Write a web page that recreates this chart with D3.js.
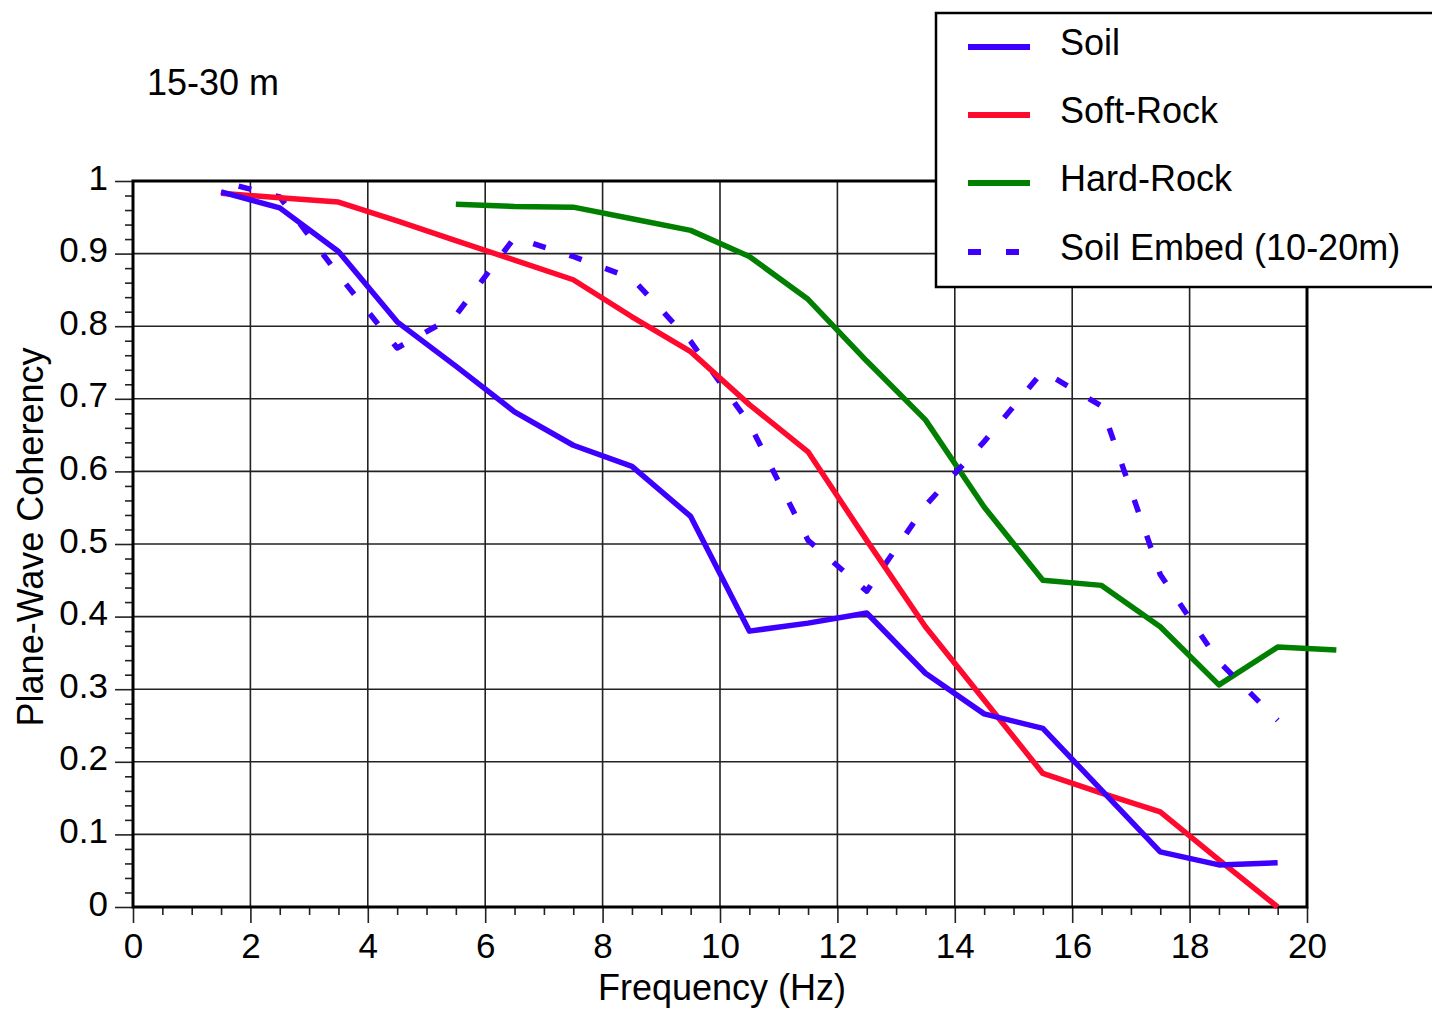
<!DOCTYPE html>
<html>
<head>
<meta charset="utf-8">
<script src="https://cdn.jsdelivr.net/npm/d3@7"></script>
<style>
  html, body { margin: 0; padding: 0; background: #fff; }
  text { font-family: "Liberation Sans", Arial, Helvetica, sans-serif; fill: #000; }
</style>
</head>
<body>
<svg id="chart" width="1432" height="1010"></svg>
<script>
// ---- data ----
const freq = [1.5,2.5,3.5,4.5,5.5,6.5,7.5,8.5,9.5,10.5,11.5,12.5,13.5,14.5,15.5,16.5,17.5,18.5,19.5];
const soil = [0.985,0.963,0.903,0.806,0.745,0.682,0.636,0.607,0.538,0.380,0.391,0.405,0.322,0.266,0.246,0.161,0.076,0.058,0.061];
const softRock = [0.983,0.977,0.971,0.945,0.918,0.891,0.864,0.813,0.765,0.692,0.627,0.505,0.386,0.285,0.184,0.157,0.131,0.065,0.0];
const hardFreq = [5.5,6.5,7.5,8.5,9.5,10.5,11.5,12.5,13.5,14.5,15.5,16.5,17.5,18.5,19.5,20.5];
const hardRock = [0.968,0.965,0.964,0.948,0.932,0.896,0.837,0.752,0.671,0.551,0.450,0.443,0.386,0.306,0.358,0.354];
const embedFreq = [1.8,2.5,3.5,4.5,5.5,6.5,7.5,8.5,9.5,10.5,11.5,12.5,13.5,14.5,15.5,16.5,17.5,18.5,19.5];
const soilEmbed = [0.993,0.978,0.871,0.770,0.815,0.922,0.896,0.866,0.779,0.666,0.505,0.435,0.553,0.641,0.738,0.690,0.458,0.338,0.257];

const xTicks = [0,2,4,6,8,10,12,14,16,18,20];
const xTickLabels = ["0","2","4","6","8","10","12","14","16","18","20"];
const yTicks = [0,0.1,0.2,0.3,0.4,0.5,0.6,0.7,0.8,0.9,1];
const yTickLabels = ["0","0.1","0.2","0.3","0.4","0.5","0.6","0.7","0.8","0.9","1"];

const seriesNames = ["Soil","Soft-Rock","Hard-Rock","Soil Embed (10-20m)"];
const seriesColors = ["#3d00ff","#ff0a2e","#007f00","#3d00ff"];

const title = "15-30 m";
const xLabel = "Frequency (Hz)";
const yLabel = "Plane-Wave Coherency";

// ---- layout ----
const L = 133, R = 1307, T = 181, B = 907;
const svg = d3.select("#chart");
const x = d3.scaleLinear().domain([0,20]).range([L,R]);
const y = d3.scaleLinear().domain([0,1]).range([B,T]);

// grid
const grid = svg.append("g");
grid.selectAll("line.v").data(xTicks.slice(1,-1)).enter().append("line")
  .attr("x1", d=>x(d)).attr("x2", d=>x(d)).attr("y1", T).attr("y2", B)
  .attr("stroke", "#222").attr("stroke-width", 1.6);
grid.selectAll("line.h").data(yTicks.slice(1,-1)).enter().append("line")
  .attr("x1", L).attr("x2", R).attr("y1", d=>y(d)).attr("y2", d=>y(d))
  .attr("stroke", "#222").attr("stroke-width", 1.6);

// minor ticks
const xMinor = d3.range(0, 20.001, 0.5).filter(v => Math.abs(v/2 - Math.round(v/2)) > 1e-6);
const yMinor = d3.range(0, 1.0001, 0.02).filter(v => Math.abs(v*10 - Math.round(v*10)) > 1e-6);

const xMinorAxis = d3.axisBottom(x).tickValues(xMinor).tickSize(8).tickFormat("");
const yMinorAxis = d3.axisLeft(y).tickValues(yMinor).tickSize(8).tickFormat("");
const xAxis = d3.axisBottom(x).tickValues(xTicks).tickSize(16).tickPadding(10)
  .tickFormat((d,i)=>xTickLabels[i]);
const yAxis = d3.axisLeft(y).tickValues(yTicks).tickSize(18).tickPadding(8)
  .tickFormat((d,i)=>yTickLabels[i]);

function styleAxis(g) {
  g.select(".domain").remove();
  g.selectAll(".tick line").attr("stroke", "#222").attr("stroke-width", 1.6);
}
svg.append("g").attr("transform", `translate(0,${B})`).call(xMinorAxis).call(styleAxis);
svg.append("g").attr("transform", `translate(${L},0)`).call(yMinorAxis).call(styleAxis);
const gx = svg.append("g").attr("transform", `translate(0,${B})`).call(xAxis).call(styleAxis);
const gy = svg.append("g").attr("transform", `translate(${L},0)`).call(yAxis).call(styleAxis);
gx.selectAll(".tick text").attr("font-size", 35).attr("font-family", "Liberation Sans, Arial, sans-serif")
  .attr("fill", "#000").attr("dy", null).attr("y", 51);
gy.selectAll(".tick text").attr("font-size", 35).attr("font-family", "Liberation Sans, Arial, sans-serif")
  .attr("fill", "#000").attr("dy", null).attr("y", 8).attr("x", -25);

// frame
svg.append("rect").attr("x", L).attr("y", T).attr("width", R-L).attr("height", B-T)
  .attr("fill", "none").attr("stroke", "#000").attr("stroke-width", 3);

// lines
const line = d3.line().x(d=>x(d[0])).y(d=>y(d[1]));
const seriesData = [
  d3.zip(freq, soil),
  d3.zip(freq, softRock),
  d3.zip(hardFreq, hardRock),
  d3.zip(embedFreq, soilEmbed)
];
const drawOrder = [2,3,1,0];
drawOrder.forEach(i => {
  svg.append("path").datum(seriesData[i]).attr("d", line)
    .attr("fill", "none").attr("stroke", seriesColors[i]).attr("stroke-width", 5.5)
    .attr("stroke-linejoin", "round")
    .attr("stroke-dasharray", i === 3 ? "13,25" : null);
});

// title and axis labels
svg.append("text").attr("x", 147).attr("y", 95).attr("font-size", 36).text(title);
svg.append("text").attr("x", (L+R)/2 + 2).attr("y", 1000).attr("text-anchor", "middle")
  .attr("font-size", 36).text(xLabel);
svg.append("text").attr("transform", "translate(43,537) rotate(-90)").attr("text-anchor", "middle")
  .attr("font-size", 36).text(yLabel);

// legend
const lg = svg.append("g");
lg.append("rect").attr("x", 936).attr("y", 13).attr("width", 520).attr("height", 274)
  .attr("fill", "#fff").attr("stroke", "#000").attr("stroke-width", 2.5);
const legY = [47, 115, 183, 252];
seriesNames.forEach((name, i) => {
  lg.append("line").attr("x1", 968).attr("x2", 1030).attr("y1", legY[i]).attr("y2", legY[i])
    .attr("stroke", seriesColors[i]).attr("stroke-width", 6)
    .attr("stroke-dasharray", i === 3 ? "13,25" : null);
  lg.append("text").attr("x", 1060).attr("y", legY[i] + 8).attr("font-size", 36).text(name);
});
</script>
</body>
</html>
